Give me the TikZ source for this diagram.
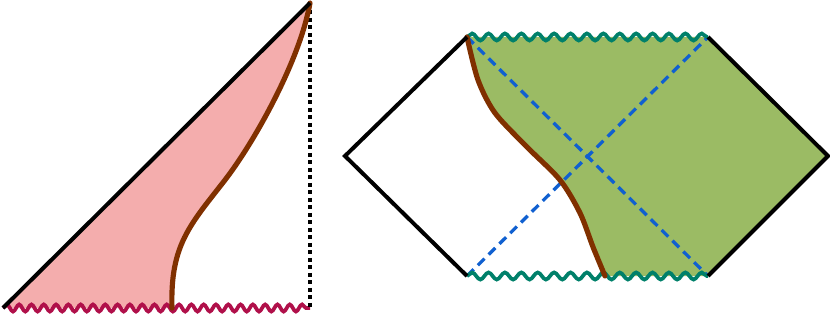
\documentclass[tikz,border=0pt]{standalone}
\usetikzlibrary{decorations.pathmorphing}

\definecolor{pinkfill}{HTML}{F4ADAD}
\definecolor{greenfill}{HTML}{9BBB64}
\definecolor{wallbrown}{HTML}{803000}
\definecolor{singred}{HTML}{B0104A}
\definecolor{singgreen}{HTML}{00806A}
\definecolor{horblue}{HTML}{1060D0}

\begin{document}
\begin{tikzpicture}[x=0.3mm, y=-0.3mm,
    edge/.style={black, line width=3.4pt, line join=miter},
    wall/.style={wallbrown, line width=4.4pt, line cap=round},
    horizon/.style={horblue, line width=2.8pt, dash pattern=on 8pt off 5pt},
    origin/.style={black, line width=3.2pt, dash pattern=on 3.2pt off 3.2pt},
    singular/.style={line width=3.2pt, decorate,
        decoration={snake, amplitude=3pt, segment length=#1}},
    singular/.default=10.5pt]
    \useasboundingbox (0,0) rectangle (830,316);

    % left diagram
    \coordinate (lbl) at (3,308);
    \coordinate (ltop) at (310,3);
    \coordinate (lbr) at (310,308);
    \coordinate (lwall) at (172,308);
    \coordinate (lmid) at (225,180);

    \fill[pinkfill] (lbl) -- (ltop) .. controls (300,60) and (255,141) .. (lmid) .. controls (190,225) and (170,245) .. (lwall) -- cycle;
    \draw[singular, singred] (lbl) -- (lbr);
    \draw[origin] (ltop) -- (lbr);
    \draw[wall] (ltop) .. controls (300,60) and (255,141) .. (lmid) .. controls (190,225) and (170,245) .. (lwall);
    \draw[edge] (lbl) -- (ltop);

    % right diagram
    \coordinate (rl) at (345,156);
    \coordinate (rtl) at (467,37);
    \coordinate (rtr) at (708,37);
    \coordinate (rr) at (828,156);
    \coordinate (rbr) at (708,276);
    \coordinate (rbl) at (467,276);
    \coordinate (rwall) at (605,276);

    \fill[greenfill] plot[smooth] coordinates {(467,37) (478,80) (495,113) (527,147) (560,180) (580,213) (593,247) (605,276)} -- (rbr) -- (rr) -- (rtr) -- cycle;
    \draw[horizon] (rtl) -- (rbr);
    \draw[horizon] (rbl) -- (rtr);
    \draw[singular=14pt, singgreen] (rtl) -- (rtr);
    \draw[singular=14pt, singgreen] (rbl) -- (rbr);
    \draw[wall] plot[smooth] coordinates {(467,37) (478,80) (495,113) (527,147) (560,180) (580,213) (593,247) (605,276)};
    \draw[edge] (rtl) -- (rl) -- (rbl);
    \draw[edge] (rtr) -- (rr) -- (rbr);
\end{tikzpicture}
\end{document}
